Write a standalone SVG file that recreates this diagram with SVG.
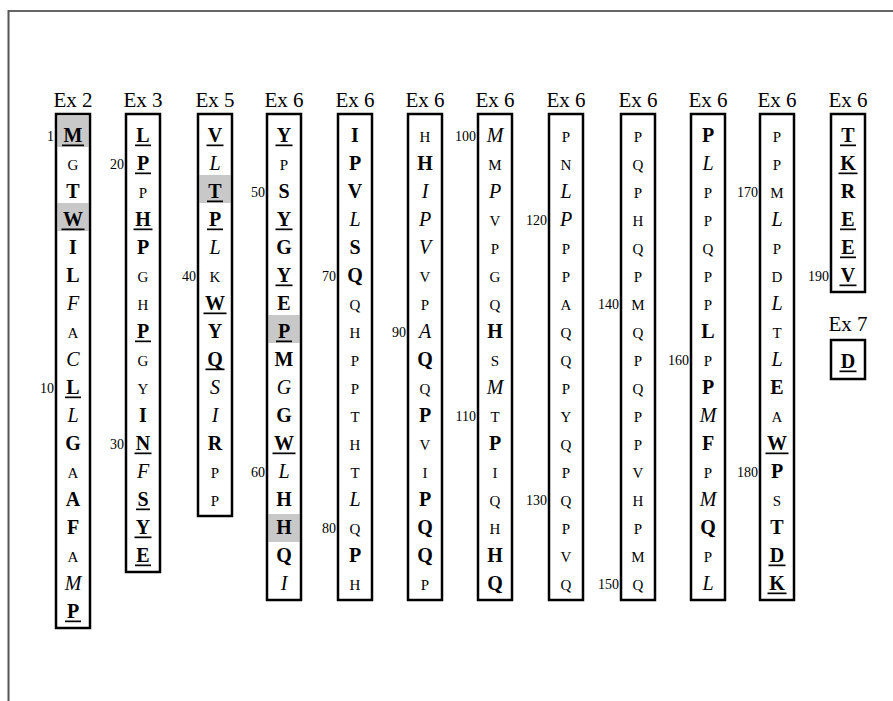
<svg xmlns="http://www.w3.org/2000/svg" width="893" height="701" viewBox="0 0 893 701">
<style>
text{fill:#000;text-anchor:middle}
.b{font-size:20px;font-weight:bold}
.i{font-size:20px;font-style:italic}
.r{font-size:15px}
.n{font-size:14px;text-anchor:end}
.lbl{font-size:21px}
.box{fill:none;stroke:#000;stroke-width:2.5}
.hl{fill:#c8c8c8}
.ul{fill:#000}
</style>
<rect x="0" y="0" width="893" height="701" fill="#fff"/>
<line x1="8" y1="11" x2="893" y2="11" stroke="#333" stroke-width="1.5"/>
<line x1="8.5" y1="10" x2="8.5" y2="701" stroke="#555" stroke-width="2"/>
<g font-family="Liberation Serif">

<g id="ex2">
<text class="lbl" x="73" y="107">Ex 2</text>
<rect class="hl" x="57.5" y="116" width="31" height="31"/>
<rect class="hl" x="57.5" y="203" width="31" height="28"/>
<rect class="box" x="56" y="114" width="34" height="514"/>
<text class="n" x="54" y="141">1</text>
<text class="n" x="54" y="393">10</text>
<text class="b" x="73" y="142">M</text><rect class="ul" x="62" y="144.5" width="22" height="1.7"/>
<text class="r" x="73" y="170">G</text>
<text class="b" x="73" y="198">T</text>
<text class="b" x="73" y="226">W</text><rect class="ul" x="61.5" y="228.5" width="23" height="1.7"/>
<text class="b" x="73" y="254">I</text>
<text class="b" x="73" y="282">L</text>
<text class="i" x="73" y="310">F</text>
<text class="r" x="73" y="338">A</text>
<text class="i" x="73" y="366">C</text>
<text class="b" x="73" y="394">L</text><rect class="ul" x="65" y="396.5" width="16" height="1.7"/>
<text class="i" x="73" y="422">L</text>
<text class="b" x="73" y="450">G</text>
<text class="r" x="73" y="478">A</text>
<text class="b" x="73" y="506">A</text>
<text class="b" x="73" y="534">F</text>
<text class="r" x="73" y="562">A</text>
<text class="i" x="73" y="590">M</text>
<text class="b" x="73" y="618">P</text><rect class="ul" x="65" y="620.5" width="16" height="1.7"/>
</g>

<g id="ex3">
<text class="lbl" x="143" y="107">Ex 3</text>
<rect class="box" x="126" y="114" width="34" height="458"/>
<text class="n" x="124" y="169">20</text>
<text class="n" x="124" y="449">30</text>
<text class="b" x="143" y="142">L</text><rect class="ul" x="135" y="144.5" width="16" height="1.7"/>
<text class="b" x="143" y="170">P</text><rect class="ul" x="135" y="172.5" width="16" height="1.7"/>
<text class="r" x="143" y="198">P</text>
<text class="b" x="143" y="226">H</text><rect class="ul" x="133.5" y="228.5" width="19" height="1.7"/>
<text class="b" x="143" y="254">P</text>
<text class="r" x="143" y="282">G</text>
<text class="r" x="143" y="310">H</text>
<text class="b" x="143" y="338">P</text><rect class="ul" x="135" y="340.5" width="16" height="1.7"/>
<text class="r" x="143" y="366">G</text>
<text class="r" x="143" y="394">Y</text>
<text class="b" x="143" y="422">I</text>
<text class="b" x="143" y="450">N</text><rect class="ul" x="134.5" y="452.5" width="17" height="1.7"/>
<text class="i" x="143" y="478">F</text>
<text class="b" x="143" y="506">S</text><rect class="ul" x="136" y="508.5" width="14" height="1.7"/>
<text class="b" x="143" y="534">Y</text><rect class="ul" x="134.5" y="536.5" width="17" height="1.7"/>
<text class="b" x="143" y="562">E</text><rect class="ul" x="135" y="564.5" width="16" height="1.7"/>
</g>

<g id="ex5">
<text class="lbl" x="215" y="107">Ex 5</text>
<rect class="hl" x="199.5" y="175" width="31" height="28"/>
<rect class="box" x="198" y="114" width="34" height="402"/>
<text class="n" x="196" y="281">40</text>
<text class="b" x="215" y="142">V</text><rect class="ul" x="206.5" y="144.5" width="17" height="1.7"/>
<text class="i" x="215" y="170">L</text>
<text class="b" x="215" y="198">T</text><rect class="ul" x="207" y="200.5" width="16" height="1.7"/>
<text class="b" x="215" y="226">P</text><rect class="ul" x="207" y="228.5" width="16" height="1.7"/>
<text class="i" x="215" y="254">L</text>
<text class="r" x="215" y="282">K</text>
<text class="b" x="215" y="310">W</text><rect class="ul" x="203.5" y="312.5" width="23" height="1.7"/>
<text class="b" x="215" y="338">Y</text>
<text class="b" x="215" y="366">Q</text><rect class="ul" x="205.5" y="368.5" width="19" height="1.7"/>
<text class="i" x="215" y="394">S</text>
<text class="i" x="215" y="422">I</text>
<text class="b" x="215" y="450">R</text>
<text class="r" x="215" y="478">P</text>
<text class="r" x="215" y="506">P</text>
</g>

<g id="ex6a">
<text class="lbl" x="284" y="107">Ex 6</text>
<rect class="hl" x="268.5" y="315" width="31" height="28"/>
<rect class="hl" x="268.5" y="514" width="31" height="28"/>
<rect class="box" x="267" y="114" width="34" height="486"/>
<text class="n" x="265" y="197">50</text>
<text class="n" x="265" y="477">60</text>
<text class="b" x="284" y="142">Y</text><rect class="ul" x="275.5" y="144.5" width="17" height="1.7"/>
<text class="r" x="284" y="170">P</text>
<text class="b" x="284" y="198">S</text>
<text class="b" x="284" y="226">Y</text><rect class="ul" x="275.5" y="228.5" width="17" height="1.7"/>
<text class="b" x="284" y="254">G</text>
<text class="b" x="284" y="282">Y</text><rect class="ul" x="275.5" y="284.5" width="17" height="1.7"/>
<text class="b" x="284" y="310">E</text>
<text class="b" x="284" y="338">P</text><rect class="ul" x="276" y="340.5" width="16" height="1.7"/>
<text class="b" x="284" y="366">M</text>
<text class="i" x="284" y="394">G</text>
<text class="b" x="284" y="422">G</text>
<text class="b" x="284" y="450">W</text><rect class="ul" x="272.5" y="452.5" width="23" height="1.7"/>
<text class="i" x="284" y="478">L</text>
<text class="b" x="284" y="506">H</text>
<text class="b" x="284" y="534">H</text>
<text class="b" x="284" y="562">Q</text>
<text class="i" x="284" y="590">I</text>
</g>

<g id="ex6b">
<text class="lbl" x="355" y="107">Ex 6</text>
<rect class="box" x="338" y="114" width="34" height="486"/>
<text class="n" x="336" y="281">70</text>
<text class="n" x="336" y="533">80</text>
<text class="b" x="355" y="142">I</text>
<text class="b" x="355" y="170">P</text>
<text class="b" x="355" y="198">V</text>
<text class="i" x="355" y="226">L</text>
<text class="b" x="355" y="254">S</text>
<text class="b" x="355" y="282">Q</text>
<text class="r" x="355" y="310">Q</text>
<text class="r" x="355" y="338">H</text>
<text class="r" x="355" y="366">P</text>
<text class="r" x="355" y="394">P</text>
<text class="r" x="355" y="422">T</text>
<text class="r" x="355" y="450">H</text>
<text class="r" x="355" y="478">T</text>
<text class="i" x="355" y="506">L</text>
<text class="r" x="355" y="534">Q</text>
<text class="b" x="355" y="562">P</text>
<text class="r" x="355" y="590">H</text>
</g>

<g id="ex6c">
<text class="lbl" x="425" y="107">Ex 6</text>
<rect class="box" x="408" y="114" width="34" height="486"/>
<text class="n" x="406" y="337">90</text>
<text class="r" x="425" y="142">H</text>
<text class="b" x="425" y="170">H</text>
<text class="i" x="425" y="198">I</text>
<text class="i" x="425" y="226">P</text>
<text class="i" x="425" y="254">V</text>
<text class="r" x="425" y="282">V</text>
<text class="r" x="425" y="310">P</text>
<text class="i" x="425" y="338">A</text>
<text class="b" x="425" y="366">Q</text>
<text class="r" x="425" y="394">Q</text>
<text class="b" x="425" y="422">P</text>
<text class="r" x="425" y="450">V</text>
<text class="r" x="425" y="478">I</text>
<text class="b" x="425" y="506">P</text>
<text class="b" x="425" y="534">Q</text>
<text class="b" x="425" y="562">Q</text>
<text class="r" x="425" y="590">P</text>
</g>

<g id="ex6d">
<text class="lbl" x="495" y="107">Ex 6</text>
<rect class="box" x="478" y="114" width="34" height="486"/>
<text class="n" x="476" y="141">100</text>
<text class="n" x="476" y="421">110</text>
<text class="i" x="495" y="142">M</text>
<text class="r" x="495" y="170">M</text>
<text class="i" x="495" y="198">P</text>
<text class="r" x="495" y="226">V</text>
<text class="r" x="495" y="254">P</text>
<text class="r" x="495" y="282">G</text>
<text class="r" x="495" y="310">Q</text>
<text class="b" x="495" y="338">H</text>
<text class="r" x="495" y="366">S</text>
<text class="i" x="495" y="394">M</text>
<text class="r" x="495" y="422">T</text>
<text class="b" x="495" y="450">P</text>
<text class="r" x="495" y="478">I</text>
<text class="r" x="495" y="506">Q</text>
<text class="r" x="495" y="534">H</text>
<text class="b" x="495" y="562">H</text>
<text class="b" x="495" y="590">Q</text>
</g>

<g id="ex6e">
<text class="lbl" x="566" y="107">Ex 6</text>
<rect class="box" x="549" y="114" width="34" height="486"/>
<text class="n" x="547" y="225">120</text>
<text class="n" x="547" y="505">130</text>
<text class="r" x="566" y="142">P</text>
<text class="r" x="566" y="170">N</text>
<text class="i" x="566" y="198">L</text>
<text class="i" x="566" y="226">P</text>
<text class="r" x="566" y="254">P</text>
<text class="r" x="566" y="282">P</text>
<text class="r" x="566" y="310">A</text>
<text class="r" x="566" y="338">Q</text>
<text class="r" x="566" y="366">Q</text>
<text class="r" x="566" y="394">P</text>
<text class="r" x="566" y="422">Y</text>
<text class="r" x="566" y="450">Q</text>
<text class="r" x="566" y="478">P</text>
<text class="r" x="566" y="506">Q</text>
<text class="r" x="566" y="534">P</text>
<text class="r" x="566" y="562">V</text>
<text class="r" x="566" y="590">Q</text>
</g>

<g id="ex6f">
<text class="lbl" x="638" y="107">Ex 6</text>
<rect class="box" x="621" y="114" width="34" height="486"/>
<text class="n" x="619" y="309">140</text>
<text class="n" x="619" y="589">150</text>
<text class="r" x="638" y="142">P</text>
<text class="r" x="638" y="170">Q</text>
<text class="r" x="638" y="198">P</text>
<text class="r" x="638" y="226">H</text>
<text class="r" x="638" y="254">Q</text>
<text class="r" x="638" y="282">P</text>
<text class="r" x="638" y="310">M</text>
<text class="r" x="638" y="338">Q</text>
<text class="r" x="638" y="366">P</text>
<text class="r" x="638" y="394">Q</text>
<text class="r" x="638" y="422">P</text>
<text class="r" x="638" y="450">P</text>
<text class="r" x="638" y="478">V</text>
<text class="r" x="638" y="506">H</text>
<text class="r" x="638" y="534">P</text>
<text class="r" x="638" y="562">M</text>
<text class="r" x="638" y="590">Q</text>
</g>

<g id="ex6g">
<text class="lbl" x="708" y="107">Ex 6</text>
<rect class="box" x="691" y="114" width="34" height="486"/>
<text class="n" x="689" y="365">160</text>
<text class="b" x="708" y="142">P</text>
<text class="i" x="708" y="170">L</text>
<text class="r" x="708" y="198">P</text>
<text class="r" x="708" y="226">P</text>
<text class="r" x="708" y="254">Q</text>
<text class="r" x="708" y="282">P</text>
<text class="r" x="708" y="310">P</text>
<text class="b" x="708" y="338">L</text>
<text class="r" x="708" y="366">P</text>
<text class="b" x="708" y="394">P</text>
<text class="i" x="708" y="422">M</text>
<text class="b" x="708" y="450">F</text>
<text class="r" x="708" y="478">P</text>
<text class="i" x="708" y="506">M</text>
<text class="b" x="708" y="534">Q</text>
<text class="r" x="708" y="562">P</text>
<text class="i" x="708" y="590">L</text>
</g>

<g id="ex6h">
<text class="lbl" x="777" y="107">Ex 6</text>
<rect class="box" x="760" y="114" width="34" height="486"/>
<text class="n" x="758" y="197">170</text>
<text class="n" x="758" y="477">180</text>
<text class="r" x="777" y="142">P</text>
<text class="r" x="777" y="170">P</text>
<text class="r" x="777" y="198">M</text>
<text class="i" x="777" y="226">L</text>
<text class="r" x="777" y="254">P</text>
<text class="r" x="777" y="282">D</text>
<text class="i" x="777" y="310">L</text>
<text class="r" x="777" y="338">T</text>
<text class="i" x="777" y="366">L</text>
<text class="b" x="777" y="394">E</text>
<text class="r" x="777" y="422">A</text>
<text class="b" x="777" y="450">W</text><rect class="ul" x="765.5" y="452.5" width="23" height="1.7"/>
<text class="b" x="777" y="478">P</text>
<text class="r" x="777" y="506">S</text>
<text class="b" x="777" y="534">T</text>
<text class="b" x="777" y="562">D</text><rect class="ul" x="768.5" y="564.5" width="17" height="1.7"/>
<text class="b" x="777" y="590">K</text><rect class="ul" x="767.5" y="592.5" width="19" height="1.7"/>
</g>

<g id="ex6i">
<text class="lbl" x="848" y="107">Ex 6</text>
<rect class="box" x="831" y="114" width="34" height="178"/>
<text class="n" x="829" y="281">190</text>
<text class="b" x="848" y="142">T</text><rect class="ul" x="840" y="144.5" width="16" height="1.7"/>
<text class="b" x="848" y="170">K</text><rect class="ul" x="838.5" y="172.5" width="19" height="1.7"/>
<text class="b" x="848" y="198">R</text>
<text class="b" x="848" y="226">E</text><rect class="ul" x="840" y="228.5" width="16" height="1.7"/>
<text class="b" x="848" y="254">E</text><rect class="ul" x="840" y="256.5" width="16" height="1.7"/>
<text class="b" x="848" y="282">V</text><rect class="ul" x="839.5" y="284.5" width="17" height="1.7"/>
</g>

<g id="ex7">
<text class="lbl" x="848" y="331">Ex 7</text>
<rect class="box" x="831" y="340" width="34" height="39"/>
<text class="b" x="848" y="368">D</text><rect class="ul" x="839.5" y="370.5" width="17" height="1.7"/>
</g>
</g>
</svg>
